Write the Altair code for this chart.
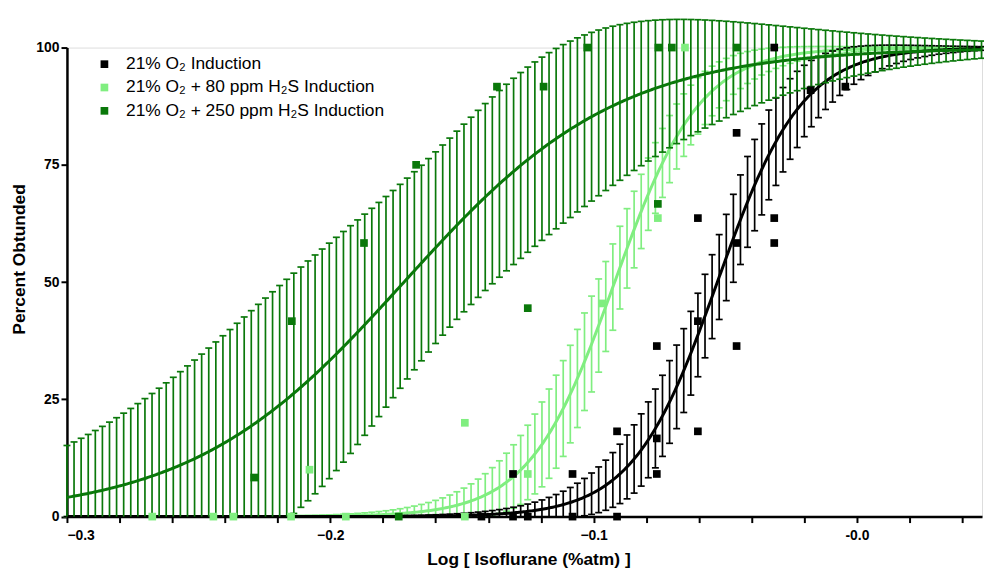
import numpy as np
import pandas as pd
import altair as alt

# ---------------- data ----------------
series_names = [
    "21% O₂ Induction",
    "21% O₂ + 80 ppm H₂S Induction",
    "21% O₂ + 250 ppm H₂S Induction",
]
series_colors = ["#000000", "#80EE80", "#0A780A"]

# fitted dose-response parameters (Hill fit, bottom 0 / top 100)
log_ec50 = [-0.053, -0.092, -0.172]
hill_slope = [27.0, 26.8, 10.7]
# half-width parameters of the 95% confidence band (t*SE) and their correlation
ci_ec50 = [0.0058, 0.0059, 0.035]
ci_hill = [8.3, 7.6, 8.4]
ci_corr = [-0.09, 0.33, 0.25]

# observed points
o2_x = [-0.1426, -0.1306, -0.1250, -0.1080, -0.0911, -0.1306, -0.1080, -0.0911,
        -0.0760, -0.0760, -0.0760, -0.0604, -0.0604, -0.0604, -0.0457, -0.0457,
        -0.0457, -0.0314, -0.0314, -0.0314, -0.0176, -0.0044]
o2_y = [0, 0, 0, 0, 0, 9.09, 9.09, 18.18, 36.36, 16.67, 9.09, 63.64, 41.67, 18.18,
        81.82, 58.33, 36.36, 63.64, 58.33, 100, 90.91, 91.67]

h80_x = [-0.2676, -0.2444, -0.2368, -0.2149, -0.1941, -0.1489, -0.2079, -0.1489,
         -0.1250, -0.0967, -0.0756, -0.0653]
h80_y = [0, 0, 0, 0, 0, 0, 10.0, 20.0, 9.09, 45.45, 63.64, 100]

h250_x = [-0.2289, -0.1740, -0.2146, -0.1872, -0.1674, -0.1367, -0.1190, -0.1250,
          -0.0756, -0.1024, -0.0754, -0.0703, -0.0457]
h250_y = [8.33, 0, 41.67, 58.33, 75.0, 91.67, 91.67, 44.44, 66.67, 100, 100, 100, 100]

x_ticks = [-0.30, -0.28, -0.26, -0.24, -0.22, -0.20, -0.18, -0.16, -0.14, -0.12,
           -0.10, -0.08, -0.06, -0.04, -0.02, 0.00, 0.02, 0.04]
y_ticks = [0, 25, 50, 75, 100]

x_min, x_max = -0.3, 0.0475
curve_span = 0.35      # GraphPad curve range -0.3 .. 0.05
n_curve_segments = 130  # confidence-band error bars drawn at each curve point

# ---------------- build tables ----------------
def fitted(x, e, h):
    return 100.0 / (1.0 + 10.0 ** ((e - x) * h))

curve_rows, bar_rows = [], []
x_line = np.linspace(x_min, x_max, 600)
x_bar = x_min + np.arange(n_curve_segments + 1) * curve_span / n_curve_segments
x_bar = x_bar[x_bar <= x_max + 1e-9]
for i, name in enumerate(series_names):
    e, h = log_ec50[i], hill_slope[i]
    se, sh, r = ci_ec50[i], ci_hill[i], ci_corr[i]
    for xv in x_line:
        curve_rows.append({"series": name, "x": xv, "y": fitted(xv, e, h)})
    for xv in x_bar:
        y = fitted(xv, e, h)
        f = np.log(10) * y * (100 - y) / 100
        d = e - xv
        var = h * h * se * se + d * d * sh * sh + 2 * h * d * r * se * sh
        half = f * np.sqrt(max(var, 0))
        bar_rows.append({"series": name, "x": xv, "lo": max(y - half, 0.0), "hi": y + half})

curves = pd.DataFrame(curve_rows)
bars = pd.DataFrame(bar_rows)
points = pd.DataFrame(
    [{"series": series_names[0], "x": a, "y": b} for a, b in zip(o2_x, o2_y)]
    + [{"series": series_names[1], "x": a, "y": b} for a, b in zip(h80_x, h80_y)]
    + [{"series": series_names[2], "x": a, "y": b} for a, b in zip(h250_x, h250_y)]
)

FONT = "Liberation Sans"

xscale = alt.Scale(domain=[x_min, x_max], nice=False, zero=False)
yscale = alt.Scale(domain=[0, 100], nice=False, zero=True)

label_expr = ("abs(datum.value*10 - round(datum.value*10)) < 0.001 ? "
              "(abs(datum.value) < 0.001 ? '-0.0' : format(datum.value, '.1f')) : ''")

x_axis = alt.Axis(values=x_ticks, labelExpr=label_expr, title="Log [ Isoflurane (%atm) ]",
                  grid=False, labelFontSize=14, labelFontWeight="bold", labelFont=FONT,
                  labelColor="black", labelOverlap=False, labelPadding=6,
                  tickSize=6, tickWidth=2, tickColor="black",
                  domainWidth=2.5, domainColor="black",
                  titleFontSize=17.5, titleFontWeight="bold", titleFont=FONT,
                  titleColor="black", titlePadding=8, titleX=465)
y_axis = alt.Axis(values=y_ticks, title="Percent Obtunded", grid=False,
                  labelFontSize=14, labelFontWeight="bold", labelFont=FONT,
                  labelColor="black", labelPadding=2,
                  tickSize=6, tickWidth=2, tickColor="black",
                  domainWidth=2.5, domainColor="black",
                  titleFontSize=17.5, titleFontWeight="bold", titleFont=FONT,
                  titleColor="black", titleX=-43, titleY=213,
                  titleBaseline="alphabetic")

BAR_W = 1.7
layers = []
order = [1, 0, 2]
for i in order:
    name, col = series_names[i], series_colors[i]
    bsub = bars[bars.series == name]
    csub = curves[curves.series == name]
    enc_x = alt.X("x:Q", scale=xscale, axis=x_axis)
    layers.append(alt.Chart(bsub).mark_rule(color=col, strokeWidth=BAR_W, clip=False).encode(
        x=enc_x, y=alt.Y("lo:Q", scale=yscale, axis=y_axis), y2="hi:Q"))
    layers.append(alt.Chart(bsub).mark_rule(color=col, strokeWidth=BAR_W, clip=False,
                                            xOffset=-3.5, x2Offset=3.5).encode(
        x=enc_x, x2="x:Q", y=alt.Y("hi:Q", scale=yscale)))
    layers.append(alt.Chart(bsub[bsub.lo > 0.05]).mark_rule(color=col, strokeWidth=BAR_W, clip=False,
                                                            xOffset=-3.5, x2Offset=3.5).encode(
        x=enc_x, x2="x:Q", y=alt.Y("lo:Q", scale=yscale)))
    layers.append(alt.Chart(csub).mark_line(color=col, strokeWidth=3, clip=False).encode(
        x=enc_x, y=alt.Y("y:Q", scale=yscale)))

pts = alt.Chart(points).mark_point(shape="square", filled=True, size=60, opacity=1,
                                   clip=False).encode(
    x=alt.X("x:Q", scale=xscale),
    y=alt.Y("y:Q", scale=yscale),
    color=alt.Color("series:N",
                    scale=alt.Scale(domain=series_names, range=series_colors),
                    legend=alt.Legend(title=None, orient="none", legendX=29, legendY=8,
                                      symbolType="square", symbolSize=60,
                                      symbolStrokeWidth=0, labelFontSize=17.5,
                                      labelFont=FONT, labelColor="black",
                                      labelOffset=13, rowPadding=4.5,
                                      labelLimit=400)),
)
layers.append(pts)

chart = alt.layer(*layers).properties(
    width=922, height=472.6,
    padding={"left": 59.4, "top": 37.7, "right": 2, "bottom": 60},
    autosize=alt.AutoSizeParams(type="none"),
).configure_view(stroke=None).configure(font=FONT)

chart.save("out.html", embed_options={"renderer": "svg", "actions": False})
